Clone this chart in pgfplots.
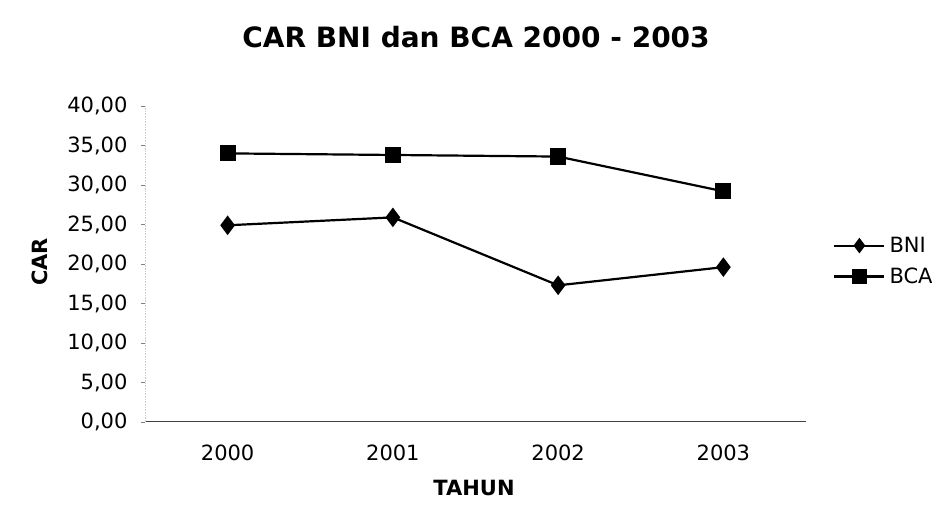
\documentclass[border=0pt]{standalone}
\usepackage{pgfplots}
\pgfplotsset{compat=1.18}
\usepackage{fontspec}
\setmainfont{DejaVu Sans}
\begin{document}
\begin{tikzpicture}[x=1pt,y=1pt]
\useasboundingbox (0,0) rectangle (932,519);
\begin{axis}[
  at={(145pt,97pt)}, anchor=south west,
  scale only axis, width=661pt, height=316pt,
  xmin=-0.5, xmax=3.5, ymin=0, ymax=40,
  xtick={0,1,2,3}, xticklabels={2000,2001,2002,2003},
  ytick={0,5,...,40},
  axis lines=left,
  axis line style={-},
  x axis line style={black!75, line width=1pt},
  y axis line style={black!20, densely dotted, line width=0.6pt},
  xtick style={draw=none},
  ytick style={black!50, line width=0.6pt},
  tick align=outside, major tick length=4pt,
  /pgf/number format/.cd, fixed, fixed zerofill, precision=2, use comma, 1000 sep={}, assume math mode=true,
  /pgfplots/.cd,
  ticklabel style={font=\fontsize{21}{25}\selectfont},
  yticklabel style={xshift=-10pt},
  xticklabel style={yshift=-15pt},
  legend style={at={(1.041,0.509)}, anchor=west, draw=none, fill=none, inner sep=0pt,
    font=\fontsize{21}{25}\selectfont, row sep=12pt,
    nodes={inner xsep=4pt, inner ysep=1pt}},
  legend cell align=left,
  legend image code/.code={\draw[mark repeat=2,mark phase=2,#1] plot coordinates {(0pt,0pt) (25pt,0pt) (50pt,0pt)};},
  legend image post style={mark size=6pt},
  clip=false,
]
\addplot[black, line width=2.2pt, mark=diamond*, mark size=8pt, mark options={solid}] coordinates {
  (0,24.9) (1,25.9) (2,17.3) (3,19.6)};
\addlegendentry{BNI}
\addplot[black, line width=2.2pt, mark=square*, mark size=7pt, mark options={solid}] coordinates {
  (0,34.0) (1,33.8) (2,33.6) (3,29.2)};
\addlegendentry{BCA}
\end{axis}
\node[font=\bfseries\fontsize{28}{32}\selectfont] at (476,482) {CAR BNI dan BCA 2000 - 2003};
\node[font=\bfseries\fontsize{21}{25}\selectfont, rotate=90] at (40,257) {CAR};
\node[font=\bfseries\fontsize{21}{25}\selectfont] at (474,31) {TAHUN};
\end{tikzpicture}
\end{document}
